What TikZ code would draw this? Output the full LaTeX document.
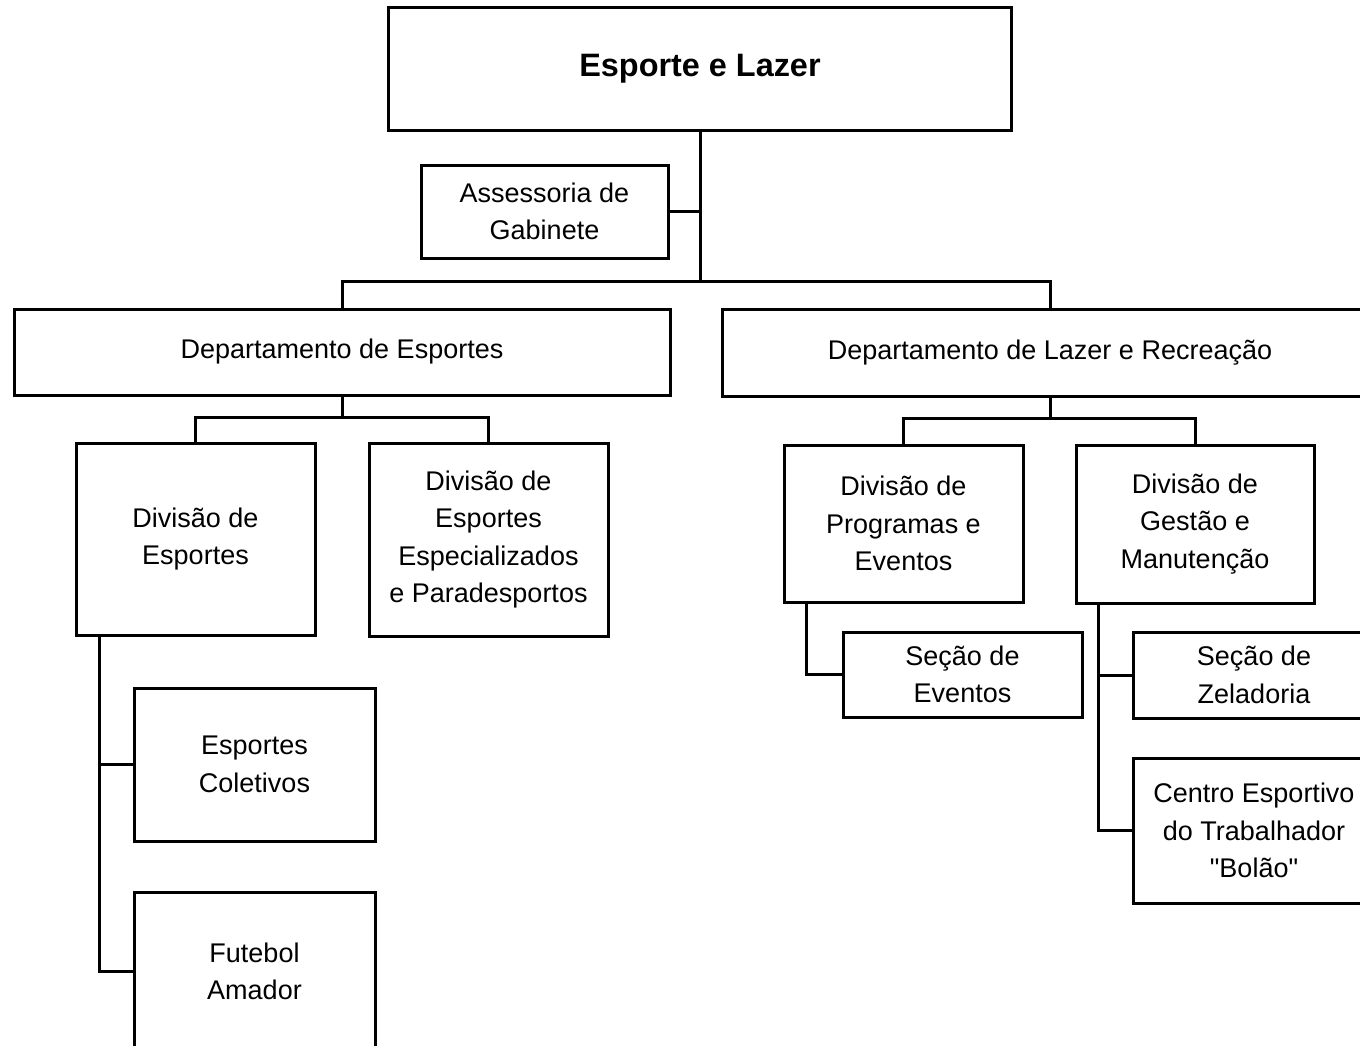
\documentclass[tikz,border=0pt]{standalone}
\usepackage{fontspec}
\setmainfont{Liberation Sans}
\begin{document}
\begin{tikzpicture}[x=0.5pt,y=-0.5pt,line width=1.5pt,
    box/.style={draw,rectangle,inner sep=0pt,align=center,
        font=\fontsize{13.5pt}{18.8pt}\selectfont}]
                \useasboundingbox (0,0) rectangle (1360,1045);
                \clip (0,0) rectangle (1360,1045);
                \node [box,minimum width=311.5pt,minimum height=61.5pt,font=\bfseries\fontsize{16.2pt}{19pt}\selectfont] (topo) at (700,68.5) {Esporte e Lazer};
                \node [box,minimum width=123.5pt,minimum height=46.5pt] (assessoria) at (544.5,211.5) {Assessoria de\\Gabinete};
                \node [box,minimum width=328pt,minimum height=43pt] (depEsp) at (342,352) {Departamento de Esportes};
                \node [box,minimum width=328pt,minimum height=43.5pt] (depLaz) at (1050,352.5) {Departamento de Lazer e Recrea\c{c}\~ao};
                \node [box,minimum width=119.5pt,minimum height=96pt] (divEsp) at (195.5,539) {Divis\~ao de\\Esportes};
                \node [box,minimum width=119.5pt,minimum height=96.5pt] (divEspec) at (488.5,539.5) {Divis\~ao de\\Esportes\\Especializados\\e Paradesportos};
                \node [box,minimum width=120.5pt,minimum height=76.5pt] (coletivos) at (254.5,764.5) {Esportes\\Coletivos};
                \node [box,minimum width=120.5pt,minimum height=79pt] (futebol) at (254.5,971.5) {Futebol\\Amador};
                \node [box,minimum width=119.5pt,minimum height=78.5pt] (divProg) at (903.5,523.5) {Divis\~ao de\\Programas e\\Eventos};
                \node [box,minimum width=119pt,minimum height=79pt] (divGest) at (1195,524) {Divis\~ao de\\Gest\~ao e\\Manuten\c{c}\~ao};
                \node [box,minimum width=119.5pt,minimum height=42.5pt] (secEventos) at (962.5,674.5) {Se\c{c}\~ao de\\Eventos};
                \node [box,minimum width=121pt,minimum height=43pt] (secZel) at (1254,675) {Se\c{c}\~ao de\\Zeladoria};
                \node [box,minimum width=121pt,minimum height=72.5pt] (centro) at (1254,830.5) {Centro Esportivo\\do Trabalhador\\\textquotedbl Bol\~ao\textquotedbl};
                \coordinate (barraTopo) at (700,281);
                \coordinate (barraEsp) at (342,417);
                \coordinate (barraLaz) at (1050,418);
                \coordinate (troncoEsp) at ([xshift=12.5pt]divEsp.south west);
                \coordinate (troncoProg) at ([xshift=12pt]divProg.south west);
                \coordinate (troncoGest) at ([xshift=12pt]divGest.south west);
                \draw (topo.south) -- (barraTopo);
                \draw (assessoria.east) -- (assessoria.east -| topo.south);
                \draw (depEsp.north) |- (barraTopo) -| (depLaz.north);
                \draw (depEsp.south) -- (barraEsp);
                \draw (divEsp.north) |- (barraEsp) -| (divEspec.north);
                \draw (depLaz.south) -- (barraLaz);
                \draw (divProg.north) |- (barraLaz) -| (divGest.north);
                \draw (troncoEsp) |- (futebol.west);
                \draw (troncoEsp |- coletivos.west) -- (coletivos.west);
                \draw (troncoProg) |- (secEventos.west);
                \draw (troncoGest) |- (centro.west);
                \draw (troncoGest |- secZel.west) -- (secZel.west);
            \end{tikzpicture}
\end{document}
